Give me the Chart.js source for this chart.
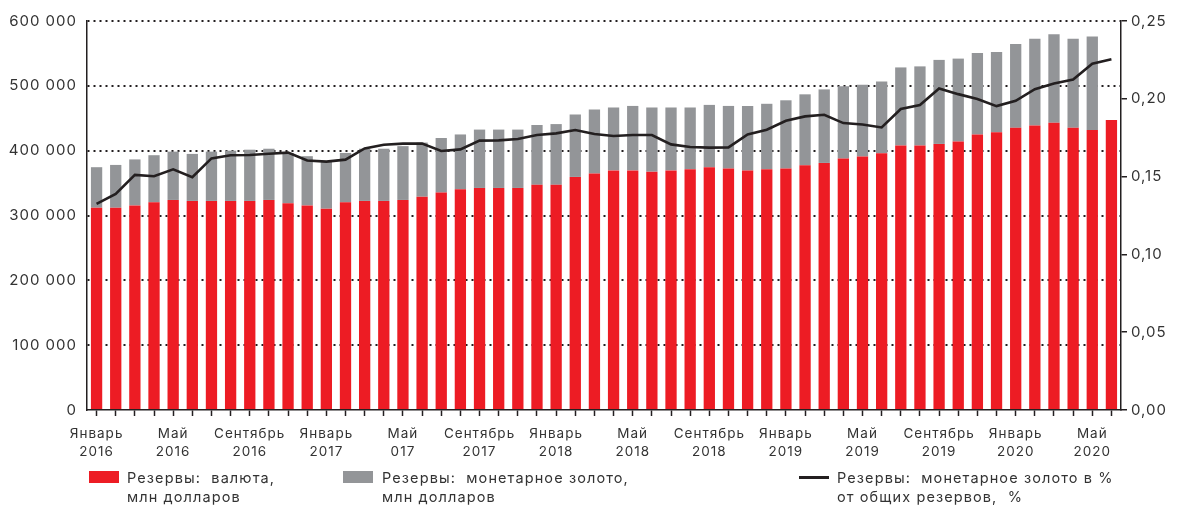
<!DOCTYPE html>
<html>
<head>
<meta charset="utf-8">
<script src="https://cdn.jsdelivr.net/npm/chart.js@4/dist/chart.umd.min.js"></script>
<style>
  html, body { margin: 0; padding: 0; background: #fff; }
  #wrap { position: relative; width: 1190px; height: 505px; overflow: hidden; }
  #c { position: absolute; left: 0; top: 0; }
  .lg { position: absolute; font-family: Inter, Roboto, sans-serif; font-size: 14.5px; line-height: 19px;
        color: #333; letter-spacing: 1.1px; white-space: pre; }
  .sw { position: absolute; }
</style>
</head>
<body>
<div id="wrap">
  <canvas id="c" width="1190" height="505"></canvas>
</div>
<script>
// ---- DATA ----
const categories = [
  'Январь 2016','Февраль 2016','Март 2016','Апрель 2016','Май 2016','Июнь 2016','Июль 2016','Август 2016','Сентябрь 2016','Октябрь 2016','Ноябрь 2016','Декабрь 2016',
  'Январь 2017','Февраль 2017','Март 2017','Апрель 2017','Май 2017','Июнь 2017','Июль 2017','Август 2017','Сентябрь 2017','Октябрь 2017','Ноябрь 2017','Декабрь 2017',
  'Январь 2018','Февраль 2018','Март 2018','Апрель 2018','Май 2018','Июнь 2018','Июль 2018','Август 2018','Сентябрь 2018','Октябрь 2018','Ноябрь 2018','Декабрь 2018',
  'Январь 2019','Февраль 2019','Март 2019','Апрель 2019','Май 2019','Июнь 2019','Июль 2019','Август 2019','Сентябрь 2019','Октябрь 2019','Ноябрь 2019','Декабрь 2019',
  'Январь 2020','Февраль 2020','Март 2020','Апрель 2020','Май 2020','Июнь 2020'
];
// shown tick labels (every 4th category)
const tickLabels = [
  ['Январь','2016'], ['Май','2016'], ['Сентябрь','2016'],
  ['Январь','2017'], ['Май','017'], ['Сентябрь','2017'],
  ['Январь','2018'], ['Май','2018'], ['Сентябрь','2018'],
  ['Январь','2019'], ['Май','2019'], ['Сентябрь','2019'],
  ['Январь','2020'], ['Май','2020']
];
const tickEvery = 4;

const currency = [
  312000, 312000, 315500, 320400, 324000, 322500, 322500, 322500, 322500, 324000, 319000, 315500,
  310500, 320400, 322500, 322500, 324000, 329000, 335400, 340500, 342500, 342500, 342500, 347400,
  347400, 359500, 364600, 369600, 369600, 367600, 369600, 371500, 374500, 372500, 369600, 371500,
  372500, 377500, 381100, 388000, 391000, 396000, 408000, 408000, 410400, 414100, 425000, 428300,
  435300, 439000, 443000, 435300, 432000, 447400
];
const gold = [
  62500, 66000, 71000, 72600, 74500, 72500, 76000, 77500, 79000, 79000, 77500, 76000,
  72500, 76100, 80500, 80500, 83000, 83500, 84100, 84500, 90000, 90000, 90000, 92200,
  93600, 96300, 98800, 97000, 99400, 99000, 97000, 95100, 96100, 96500, 99400, 100800,
  105200, 109400, 113400, 111300, 110500, 110500, 120400, 122000, 129600, 127900, 125800, 124000,
  129200, 133600, 136700, 137300, 144200, null
];
const goldShare = [
  0.1325, 0.1389, 0.1511, 0.1502, 0.1547, 0.1496, 0.1617, 0.1637, 0.1639, 0.1647, 0.1654, 0.1603,
  0.1596, 0.1609, 0.1681, 0.1705, 0.1712, 0.1712, 0.1665, 0.1675, 0.1731, 0.1733, 0.1742, 0.1767,
  0.1778, 0.1799, 0.1774, 0.1761, 0.1767, 0.1767, 0.1707, 0.1690, 0.1686, 0.1688, 0.1771, 0.1801,
  0.1859, 0.1887, 0.1897, 0.1844, 0.1835, 0.1816, 0.1934, 0.1960, 0.2066, 0.2030, 0.1998, 0.1953,
  0.1987, 0.2062, 0.2098, 0.2124, 0.2226, 0.2254
];
const seriesNames = [
  ['Резервы:  валюта,', 'млн долларов'],
  ['Резервы:  монетарное золото,', 'млн долларов'],
  ['Резервы:  монетарное золото в %', 'от общих резервов,  %']
];
const leftTicks = [0, 100000, 200000, 300000, 400000, 500000, 600000];
const rightTicks = [0, 0.05, 0.10, 0.15, 0.20, 0.25];

// ---- STYLE ----
const RED = '#ed1c24', GRAY = '#939598', INK = '#231f20', TXT = '#333333';
const FONT = 'Inter, Roboto, sans-serif';

const spacingPlugin = {
  id: 'spacing',
  beforeUpdate(c) { c.ctx.letterSpacing = '1px'; },
  beforeDraw(c) { c.ctx.letterSpacing = '1px'; }
};

const fmtThousands = v => String(Math.round(v)).replace(/\B(?=(\d{3})+(?!\d))/g, ' ');

const chart = new Chart(document.getElementById('c'), {
  data: {
    labels: categories,
    datasets: [
      { type: 'line', label: seriesNames[2].join(' '), data: goldShare, yAxisID: 'y1',
        borderColor: INK, borderWidth: 2.6, pointRadius: 0, tension: 0, order: 0, fill: false },
      { type: 'bar', label: seriesNames[0].join(' '), data: currency, yAxisID: 'y', stack: 's',
        backgroundColor: RED, order: 1, categoryPercentage: 1, barPercentage: 0.59 },
      { type: 'bar', label: seriesNames[1].join(' '), data: gold, yAxisID: 'y', stack: 's',
        backgroundColor: GRAY, order: 1, categoryPercentage: 1, barPercentage: 0.59 }
    ]
  },
  options: {
    responsive: false,
    animation: false,
    devicePixelRatio: 1,
    layout: { padding: { top: 21, left: 0, right: 0, bottom: 0 } },
    plugins: { legend: { display: false }, tooltip: { enabled: false } },
    scales: {
      x: {
        type: 'category',
        offset: true,
        stacked: true,
        afterFit(s) { s.height = 95; },
        grid: { display: true, drawOnChartArea: false, drawTicks: true, offset: false,
                tickLength: 6, tickColor: INK, tickWidth: 1.5, color: INK },
        border: { display: true, color: INK, width: 1.5 },
        ticks: {
          autoSkip: false, maxRotation: 0, minRotation: 0, padding: 8,
          color: TXT, font: { family: FONT, size: 13.5, lineHeight: 1.4 },
          callback: (v, i) => (i % tickEvery === 0 && tickLabels[i / tickEvery]) ? tickLabels[i / tickEvery] : ''
        }
      },
      y: {
        position: 'left',
        stacked: true,
        min: 0, max: 600000,
        afterFit(s) { s.width = 87; },
        afterBuildTicks(s) { s.ticks = leftTicks.map(v => ({ value: v })); },
        grid: { drawTicks: false, lineWidth: 2,
                color: ctx => (ctx.tick && ctx.tick.value === 0) ? 'rgba(0,0,0,0)' : INK },
        border: { display: true, color: INK, width: 1.5, dash: [2, 4] },
        ticks: { padding: 10, color: TXT, font: { family: FONT, size: 15 },
                 callback: v => fmtThousands(v) }
      },
      y1: {
        position: 'right',
        min: 0, max: 0.25,
        afterFit(s) { s.width = 69; },
        afterBuildTicks(s) { s.ticks = rightTicks.map(v => ({ value: v })); },
        grid: { drawOnChartArea: false, drawTicks: true, tickLength: 6, color: INK, lineWidth: 1.5 },
        border: { display: true, color: INK, width: 1.5 },
        ticks: { padding: 4, color: TXT, font: { family: FONT, size: 15 },
                 callback: v => v.toFixed(2).replace('.', ',') }
      }
    }
  },
  plugins: [spacingPlugin]
});

// ---- HTML legend ----
const wrap = document.getElementById('wrap');
const legendItems = [
  { kind: 'box', color: RED,  sx: 89,  tx: 127, lines: seriesNames[0] },
  { kind: 'box', color: GRAY, sx: 343, tx: 382, lines: seriesNames[1] },
  { kind: 'line', color: INK, sx: 799, tx: 837, lines: seriesNames[2] }
];
legendItems.forEach(it => {
  const sw = document.createElement('div');
  sw.className = 'sw';
  if (it.kind === 'box') {
    Object.assign(sw.style, { left: it.sx + 'px', top: '471px', width: '30px', height: '12px', background: it.color });
  } else {
    Object.assign(sw.style, { left: it.sx + 'px', top: '476px', width: '30px', height: '3px', background: it.color });
  }
  wrap.appendChild(sw);
  const t = document.createElement('div');
  t.className = 'lg';
  t.style.left = it.tx + 'px';
  t.style.top = '468px';
  t.textContent = it.lines.join('\n');
  wrap.appendChild(t);
});
</script>
</body>
</html>
